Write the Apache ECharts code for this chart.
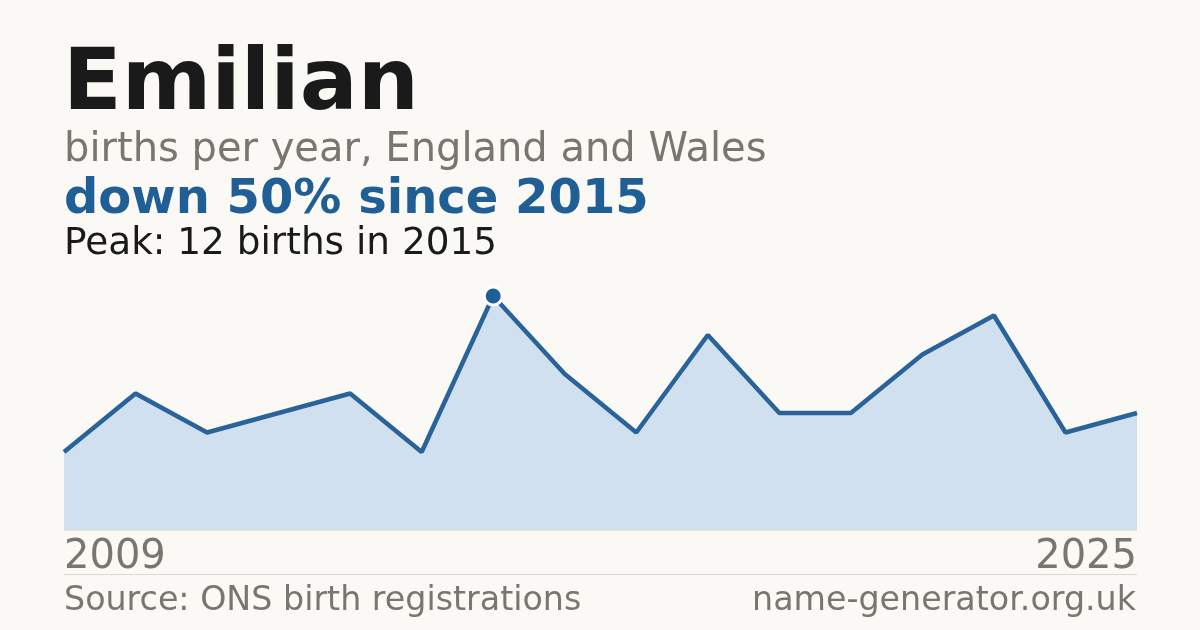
<!DOCTYPE html>
<html><head><meta charset="utf-8">
<script src="https://cdn.jsdelivr.net/npm/echarts@6/dist/echarts.min.js"></script>
<style>html,body{margin:0;padding:0;background:#faf9f5;}#c{width:1200px;height:630px;}</style>
</head><body><div id="c"></div>
<script>
const years = ["2009","2010","2011","2012","2013","2014","2015","2016","2017","2018","2019","2021","2022","2023","2024","2025"];
const births = [4,7,5,6,7,4,12,8,5,10,6,6,9,11,5,6];
const titleText = "Emilian";
const subtitleText = "births per year, England and Wales";
const changeText = "down 50% since 2015";
const peakText = "Peak: 12 births in 2015";
const sourceText = "Source: ONS birth registrations";
const siteText = "name-generator.org.uk";

const peakIdx = births.indexOf(Math.max(...births));
const peakData = births.map((v,i)=> i===peakIdx ? v : null);
const F = "DejaVu Sans";
const chart = echarts.init(document.getElementById('c'));
chart.setOption({
  backgroundColor:'#faf9f5',
  animation:false,
  title:[
    {text:titleText, left:58, top:39, textStyle:{fontFamily:F,fontSize:86,fontWeight:'bold',color:'#1a1a1a'}},
    {text:subtitleText, left:59, top:126, textStyle:{fontFamily:F,fontSize:40,fontWeight:'normal',color:'#7a756e'}},
    {text:changeText, left:59, top:172, textStyle:{fontFamily:F,fontSize:48,fontWeight:'bold',color:'#1f5f96'}},
    {text:peakText, left:59, top:221, textStyle:{fontFamily:F,fontSize:37.4,fontWeight:'normal',color:'#1a1a1a'}},
    {text:sourceText, left:59, top:580, textStyle:{fontFamily:F,fontSize:33.3,fontWeight:'normal',color:'#7a756e'}},
    {text:siteText, right:59, top:580, textStyle:{fontFamily:F,fontSize:33.3,fontWeight:'normal',color:'#7a756e'}}
  ],
  graphic:[
    {type:'line', shape:{x1:64,y1:574.5,x2:1137,y2:574.5}, style:{stroke:'#dcd9d2',lineWidth:1}}
  ],
  grid:{left:64,right:63,top:296,bottom:100},
  xAxis:{type:'category',data:years,boundaryGap:false,
    axisLine:{lineStyle:{color:'#ebe3d6',width:1}},axisTick:{show:false},splitLine:{show:false},
    axisLabel:{fontFamily:F,fontSize:40,color:'#7a756e',margin:8,
      interval:(i)=> i===0 || i===years.length-1, alignMinLabel:'left', alignMaxLabel:'right'}},
  yAxis:{type:'value',min:0,max:12,show:false,splitLine:{show:false}},
  series:[
    {type:'line',data:births,symbol:'none',lineStyle:{color:'#2a6399',width:4.5},
      areaStyle:{color:'#d0e0ef',opacity:1},z:2},
    {type:'scatter',data:peakData,symbol:'circle',symbolSize:18,
      itemStyle:{color:'#1f5f96',borderColor:'#ffffff',borderWidth:3,opacity:1},z:5}
  ]
});
</script></body></html>
